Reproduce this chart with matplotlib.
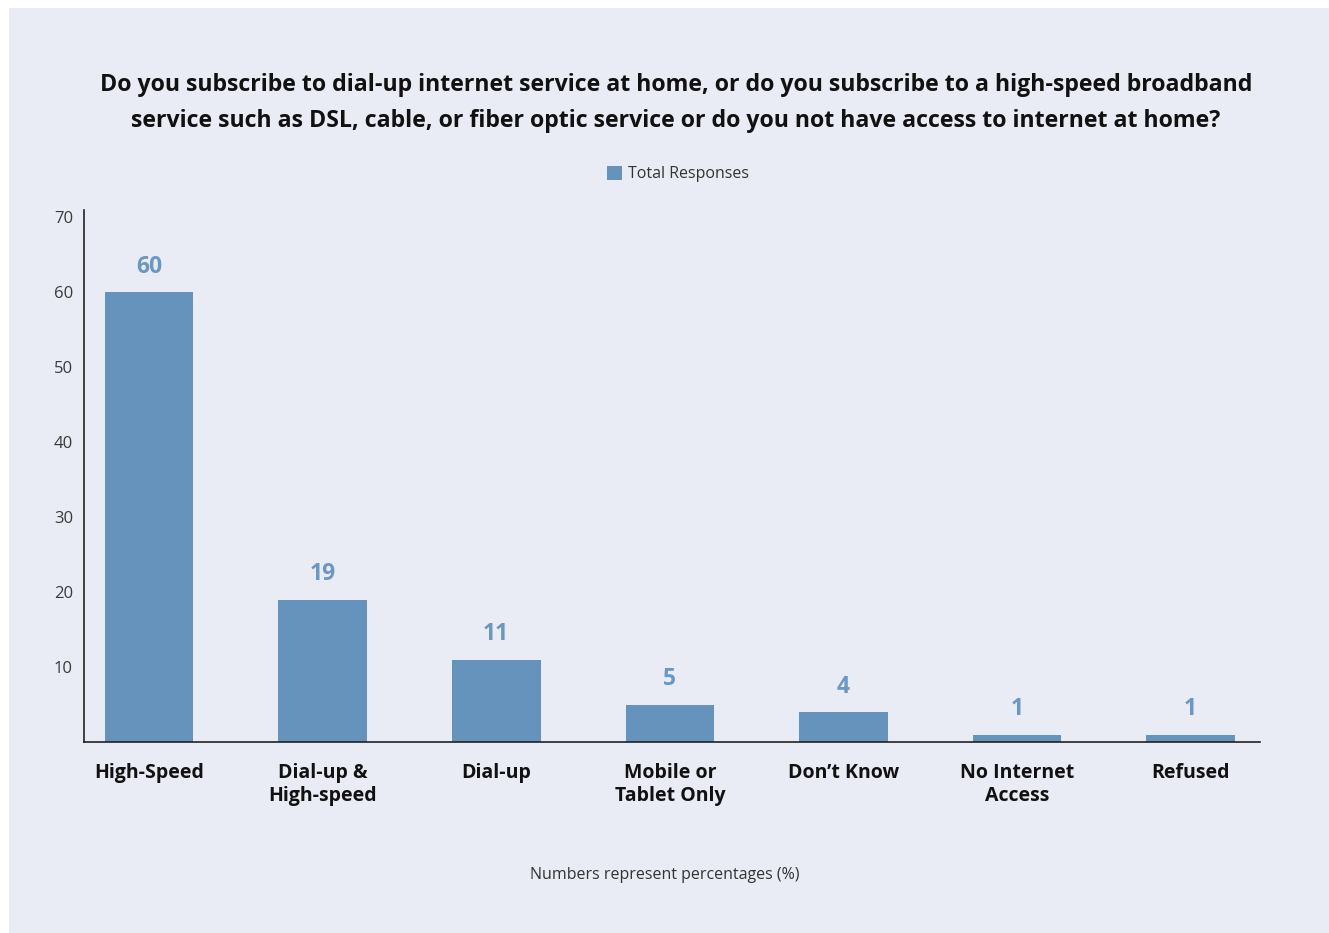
import matplotlib.pyplot as plt
from matplotlib.patches import Rectangle, Patch

categories = ["High-Speed", "Dial-up &\nHigh-speed", "Dial-up", "Mobile or\nTablet Only",
              "Don\u2019t Know", "No Internet\nAccess", "Refused"]
values = [60, 19, 11, 5, 4, 1, 1]
yticks = [10, 20, 30, 40, 50, 60, 70]

title = ("Do you subscribe to dial-up internet service at home, or do you subscribe to a high-speed broadband\n"
         "service such as DSL, cable, or fiber optic service or do you not have access to internet at home?")
series_name = "Total Responses"
note = "Numbers represent percentages (%)"

BG = "#E9ECF4"
BAR = "#6593BC"
LABEL = "#6B97C2"
FONT = "Open Sans"

W, H = 1329, 933
fig = plt.figure(figsize=(W / 100, H / 100), dpi=100, facecolor="white")
fig.patches.append(Rectangle((9 / W, 0), 1 - 9 / W, 1 - 8 / H, transform=fig.transFigure,
                             facecolor=BG, edgecolor="none", zorder=-10))

ax = fig.add_axes([84 / W, 1 - 742 / H, (1260 - 84) / W, (742 - 210) / H])
ax.set_facecolor("none")
ax.set_zorder(5)

x = list(range(len(categories)))
ax.bar(x, values, width=0.51, color=BAR, zorder=2)
for xi, v in zip(x, values):
    ax.text(xi, v + 1.8, str(v), ha="center", va="bottom", color=LABEL,
            fontsize=16.5, fontweight="bold", family=FONT)

ax.set_xlim(-0.375, 6.4)
ax.set_ylim(0, 71)
ax.set_yticks(yticks)
ax.set_yticklabels([str(t) for t in yticks], fontsize=12, color="#3a3a3a", family=FONT)
ax.tick_params(axis="y", length=0, pad=8)
ax.set_xticks(x)
ax.set_xticklabels(categories, fontsize=14, fontweight="bold", color="#111111",
                   family=FONT, linespacing=1.2, va="top")
ax.tick_params(axis="x", length=0, pad=15)

for s in ("top", "right"):
    ax.spines[s].set_visible(False)
for s in ("left", "bottom"):
    ax.spines[s].set_color("#222222")
    ax.spines[s].set_linewidth(1.2)

fig.text(676 / W, 1 - 103 / H, title, ha="center", va="center", fontsize=16.7,
         fontweight="bold", color="#111111", family=FONT, linespacing=1.7)

leg = fig.legend(handles=[Patch(facecolor=BAR, label=series_name)], loc="center",
                 bbox_to_anchor=(0.51, 1 - 174 / H), frameon=False,
                 prop={"family": FONT, "size": 11.5}, handlelength=1.0, handleheight=1.0,
                 handletextpad=0.35)
for t in leg.get_texts():
    t.set_color("#333333")

fig.text(0.5, 1 - 875 / H, note, ha="center", va="center", fontsize=11.5,
         color="#333333", family=FONT)

fig.savefig("out.png", dpi=100, facecolor="white")
